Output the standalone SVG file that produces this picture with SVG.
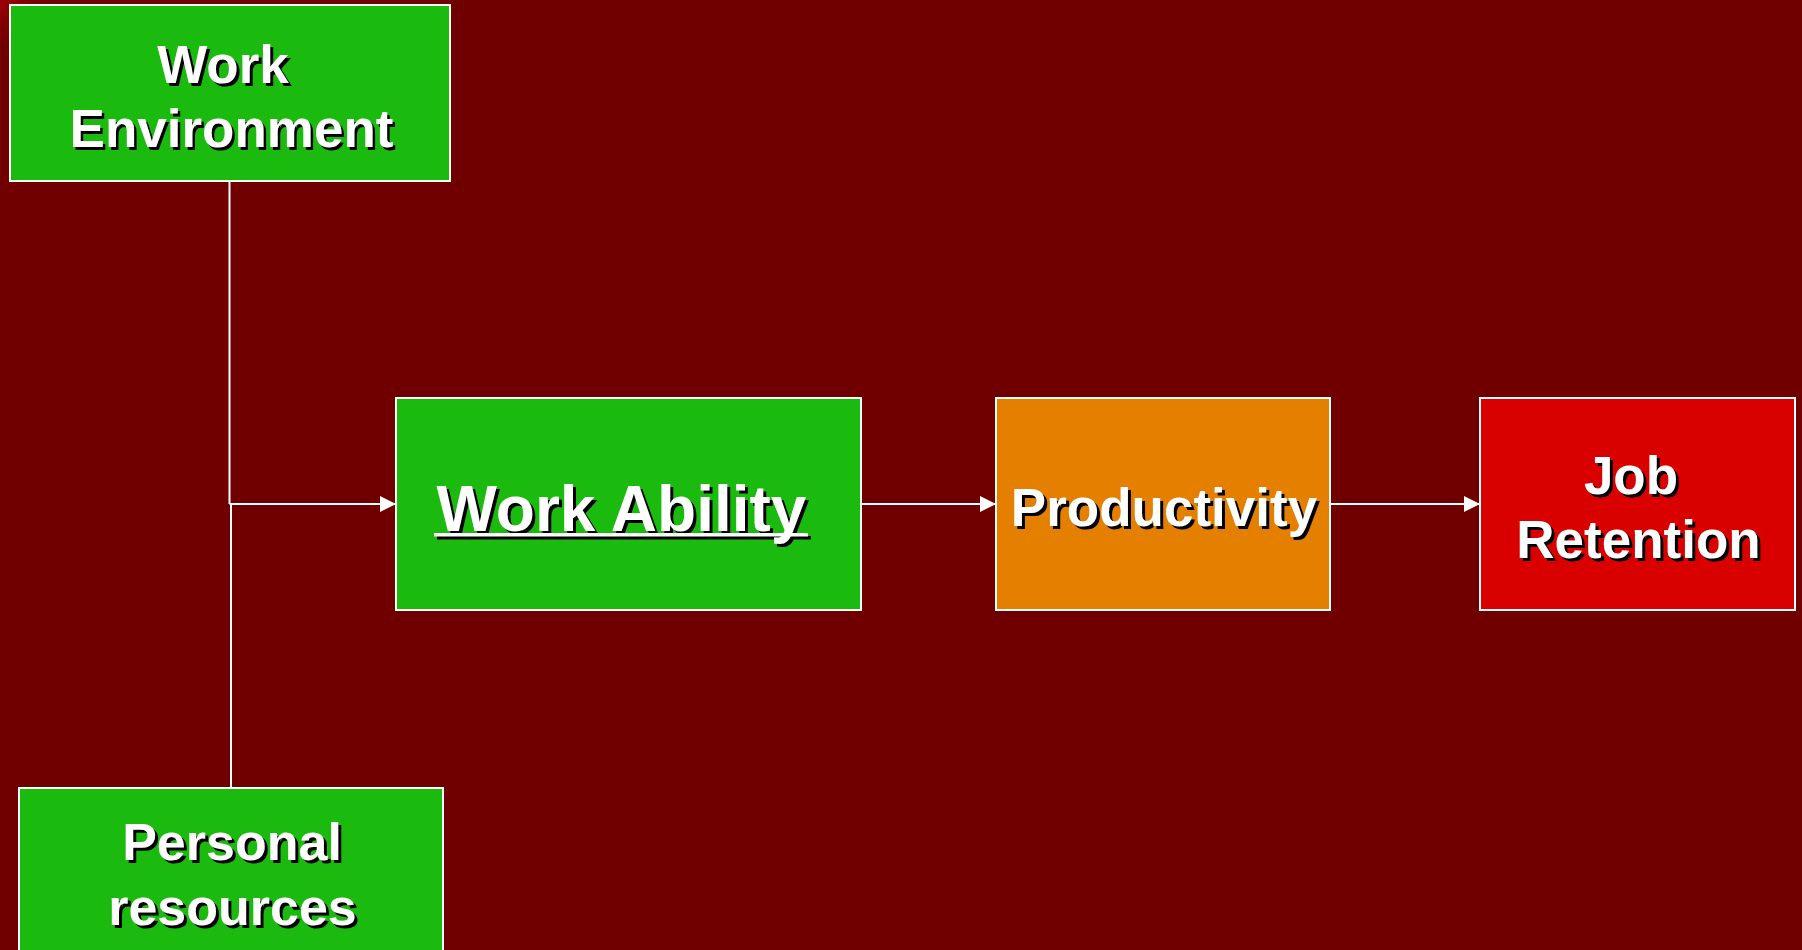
<svg xmlns="http://www.w3.org/2000/svg" width="1802" height="950" viewBox="0 0 1802 950">
  <style>
    .box { stroke: #ffffff; stroke-width: 2; }
    .green { fill: #1aba0e; }
    .orange { fill: #e57f00; }
    .red { fill: #d90000; }
    .lbl { font-family: "Liberation Sans", Arial, sans-serif; font-weight: bold; fill: #ffffff; text-anchor: middle; }
    .shadow { fill: #000000; }
    .wire { stroke: #ffffff; stroke-width: 2; fill: none; }
  </style>
  <defs>
    <radialGradient id="corner" cx="0" cy="0" r="60" gradientUnits="userSpaceOnUse">
      <stop offset="0" stop-color="#a00000"/>
      <stop offset="1" stop-color="#700000" stop-opacity="0"/>
    </radialGradient>
    <marker id="arrow" viewBox="0 0 16 16" refX="16" refY="8" markerWidth="16" markerHeight="16" markerUnits="userSpaceOnUse" orient="auto">
      <path d="M0,0 L16,8 L0,16 Z" fill="#ffffff"/>
    </marker>
  </defs>

  <!-- background -->
  <rect x="0" y="0" width="1802" height="950" fill="#700000"/>
  <rect x="0" y="0" width="80" height="60" fill="url(#corner)"/>

  <!-- connectors -->
  <g id="connectors">
    <line class="wire" x1="229.5" y1="181" x2="229.5" y2="504"/>
    <line class="wire" x1="231" y1="504" x2="231" y2="788"/>
    <line class="wire" x1="229.5" y1="504" x2="396" y2="504" marker-end="url(#arrow)"/>
    <line class="wire" x1="861" y1="504" x2="996" y2="504" marker-end="url(#arrow)"/>
    <line class="wire" x1="1330" y1="504" x2="1480" y2="504" marker-end="url(#arrow)"/>
  </g>

  <!-- Work Environment -->
  <g id="work-environment">
    <rect class="box green" x="10" y="5" width="440" height="176"/>
    <g font-size="53">
      <text class="lbl shadow" x="226" y="86">Work</text>
      <text class="lbl shadow" x="234" y="150">Environment</text>
      <text class="lbl" x="223" y="83">Work</text>
      <text class="lbl" x="231.5" y="147">Environment</text>
    </g>
  </g>

  <!-- Work Ability (underlined title) -->
  <g id="work-ability">
    <rect class="box green" x="396" y="398" width="465" height="212"/>
    <g font-size="64">
      <text class="lbl shadow" x="624.5" y="534">Work Ability</text>
      <rect x="437" y="536" width="374" height="3.5" fill="#000000"/>
      <text class="lbl" x="621.5" y="531">Work Ability</text>
      <rect x="434" y="533" width="374" height="3.5" fill="#ffffff"/>
    </g>
  </g>

  <!-- Productivity -->
  <g id="productivity">
    <rect class="box orange" x="996" y="398" width="334" height="212"/>
    <g font-size="53">
      <text class="lbl shadow" x="1167" y="529">Productivity</text>
      <text class="lbl" x="1164" y="526">Productivity</text>
    </g>
  </g>

  <!-- Job Retention -->
  <g id="job-retention">
    <rect class="box red" x="1480" y="398" width="315" height="212"/>
    <g font-size="53">
      <text class="lbl shadow" x="1634" y="497">Job</text>
      <text class="lbl shadow" x="1641.5" y="561">Retention</text>
      <text class="lbl" x="1631" y="494">Job</text>
      <text class="lbl" x="1638.5" y="558">Retention</text>
    </g>
  </g>

  <!-- Personal resources -->
  <g id="personal-resources">
    <rect class="box green" x="19" y="788" width="424" height="180"/>
    <g font-size="52">
      <text class="lbl shadow" x="235" y="863">Personal</text>
      <text class="lbl shadow" x="235.5" y="928">resources</text>
      <text class="lbl" x="232" y="860">Personal</text>
      <text class="lbl" x="232.5" y="925">resources</text>
    </g>
  </g>
</svg>
